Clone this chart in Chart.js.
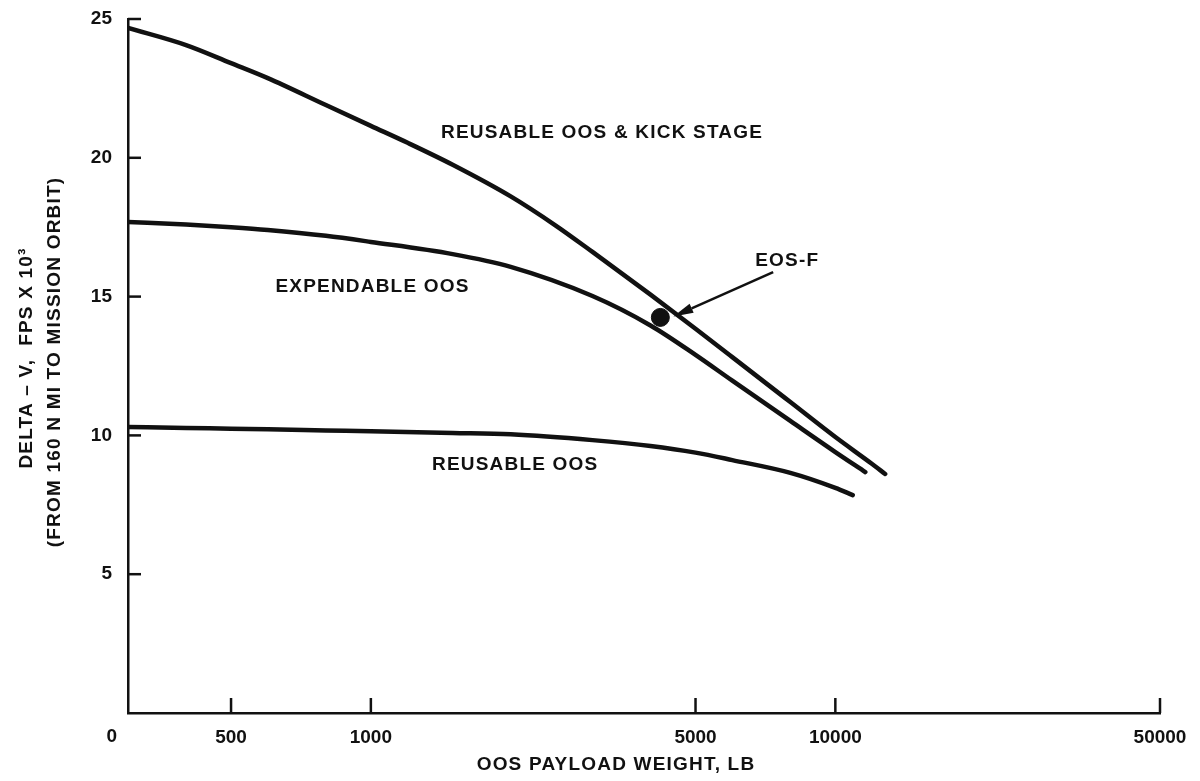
<!DOCTYPE html>
<html>
<head>
<meta charset="utf-8">
<title>OOS Delta-V vs Payload Weight</title>
<script src="https://cdn.jsdelivr.net/npm/chart.js@4"></script>
<style>
  html, body { margin: 0; padding: 0; background: #fff; }
  #wrap { width: 1200px; height: 781px; }
</style>
</head>
<body>
<div id="wrap"><canvas id="deltaV" width="1200" height="781"></canvas></div>
<script>
// payload weight (lb) and delta-V (fps x 1000) for each stage option
const kickWeight = [300, 400, 500, 600, 800, 1000, 1200, 1500, 2000, 2500, 3000, 4000, 5000, 6000, 8000, 10000, 12000, 12800];
const kickDeltaV = [24.68, 24.06, 23.41, 22.87, 21.90, 21.15, 20.54, 19.75, 18.61, 17.56, 16.61, 15.07, 13.84, 12.82, 11.20, 9.94, 8.97, 8.61];

const expWeight = [300, 400, 500, 600, 800, 1000, 1500, 2000, 3000, 4000, 5000, 6000, 8000, 10000, 11600];
const expDeltaV = [17.69, 17.60, 17.50, 17.40, 17.19, 16.97, 16.53, 16.07, 15.02, 13.96, 12.90, 11.97, 10.52, 9.40, 8.68];

const reuseWeight = [300, 400, 500, 600, 800, 1000, 1500, 2000, 3000, 4000, 5000, 6000, 8000, 10000, 10900];
const reuseDeltaV = [10.30, 10.27, 10.24, 10.22, 10.18, 10.15, 10.09, 10.04, 9.83, 9.62, 9.38, 9.11, 8.65, 8.11, 7.85];

// EOS-F mission point
const eosWeight = [4200];
const eosDeltaV = [14.25];

// axis ticks
const xTicks = [300, 500, 1000, 5000, 10000, 50000];
const yTicks = [0, 5, 10, 15, 20, 25];

const ink = '#111';
const face = '"Liberation Sans", Arial, Helvetica, sans-serif';
Chart.defaults.font.family = face;
Chart.defaults.color = ink;

// curve captions, anchored in data units (left edge, middle)
const notes = [
  { text: 'REUSABLE OOS & KICK STAGE', x: 1416, y: 20.89 },
  { text: 'EXPENDABLE OOS', x: 623, y: 15.35 },
  { text: 'REUSABLE OOS', x: 1354, y: 8.93 },
  { text: 'EOS-F', x: 6720, y: 16.28 }
];

function pairs(xs, ys) {
  return xs.map((v, i) => ({ x: v, y: ys[i] }));
}

function curve(label, xs, ys) {
  return {
    label: label,
    data: pairs(xs, ys),
    borderColor: ink,
    borderWidth: 4.5,
    borderCapStyle: 'round',
    pointRadius: 0,
    fill: false,
    cubicInterpolationMode: 'monotone'
  };
}

const paperMarks = {
  id: 'paperMarks',
  afterDatasetsDraw(chart) {
    const { ctx, chartArea: area, scales: { x, y } } = chart;
    ctx.save();
    ctx.strokeStyle = ink;
    ctx.fillStyle = ink;
    ctx.lineWidth = 2.5;

    // tick marks point into the plot
    x.ticks.forEach(t => {
      if (t.value <= x.min) return;
      const px = x.getPixelForValue(t.value);
      ctx.beginPath();
      ctx.moveTo(px, area.bottom);
      ctx.lineTo(px, area.bottom - 15);
      ctx.stroke();
    });
    y.ticks.forEach(t => {
      if (t.value <= y.min) return;
      const py = y.getPixelForValue(t.value);
      ctx.beginPath();
      ctx.moveTo(area.left, py);
      ctx.lineTo(area.left + 13, py);
      ctx.stroke();
    });

    // origin label sits under the corner
    ctx.font = 'bold 19px ' + face;
    ctx.textAlign = 'right';
    ctx.textBaseline = 'middle';
    ctx.fillText('0', area.left - 11, area.bottom + 24);

    // captions
    ctx.letterSpacing = '1.2px';
    ctx.textAlign = 'left';
    notes.forEach(n => {
      ctx.fillText(n.text, x.getPixelForValue(n.x), y.getPixelForValue(n.y));
    });

    // arrow from EOS-F caption to its point
    const eos = notes[3];
    const lx = x.getPixelForValue(eos.x);
    const ly = y.getPixelForValue(eos.y);
    const tail = { x: lx + 18, y: ly + 11 };
    const tip = { x: x.getPixelForValue(eosWeight[0]) + 13, y: y.getPixelForValue(eosDeltaV[0]) - 1 };
    const ang = Math.atan2(tip.y - tail.y, tip.x - tail.x);
    const headLen = 20, headW = 5;
    const bx = tip.x - headLen * Math.cos(ang);
    const by = tip.y - headLen * Math.sin(ang);
    ctx.lineWidth = 2.5;
    ctx.beginPath();
    ctx.moveTo(tail.x, tail.y);
    ctx.lineTo(bx, by);
    ctx.stroke();
    ctx.beginPath();
    ctx.moveTo(tip.x, tip.y);
    ctx.lineTo(bx + headW * Math.sin(ang), by - headW * Math.cos(ang));
    ctx.lineTo(bx - headW * Math.sin(ang), by + headW * Math.cos(ang));
    ctx.closePath();
    ctx.fill();

    // axis titles
    ctx.textAlign = 'center';
    ctx.fillText('OOS PAYLOAD WEIGHT, LB', 616, 765);
    ctx.translate(27, 358);
    ctx.rotate(-Math.PI / 2);
    ctx.fillText('DELTA – V,  FPS X 10³', 0, 0);
    ctx.fillText('(FROM 160 N MI TO MISSION ORBIT)', -4, 28);
    ctx.restore();
  }
};

new Chart(document.getElementById('deltaV'), {
  type: 'line',
  data: {
    datasets: [
      curve('REUSABLE OOS & KICK STAGE', kickWeight, kickDeltaV),
      curve('EXPENDABLE OOS', expWeight, expDeltaV),
      curve('REUSABLE OOS', reuseWeight, reuseDeltaV),
      {
        label: 'EOS-F',
        type: 'scatter',
        data: pairs(eosWeight, eosDeltaV),
        pointRadius: 9,
        pointBackgroundColor: ink,
        pointBorderColor: ink,
        showLine: false
      }
    ]
  },
  options: {
    responsive: false,
    devicePixelRatio: 1,
    animation: false,
    layout: { padding: { top: 19, right: 40, bottom: 0, left: 0 } },
    plugins: {
      legend: { display: false },
      tooltip: { enabled: false }
    },
    scales: {
      x: {
        type: 'logarithmic',
        bounds: 'data',
        min: 300,
        max: 50000,
        afterBuildTicks: function(scale) {
          scale.ticks = xTicks.map(v => ({ value: v }));
        },
        afterFit: function(scale) {
          scale.height = 68;
          scale.paddingLeft = 0;
          scale.paddingRight = 0;
        },
        grid: { display: true, drawOnChartArea: false, drawTicks: false },
        border: { display: true, color: ink, width: 2.5 },
        ticks: {
          autoSkip: false,
          maxRotation: 0,
          padding: 13,
          font: { size: 19, weight: 'bold' },
          callback: function(value) {
            return value <= 300 ? '' : String(value);
          }
        }
      },
      y: {
        type: 'linear',
        min: 0,
        max: 25,
        afterBuildTicks: function(scale) {
          scale.ticks = yTicks.map(v => ({ value: v }));
        },
        afterFit: function(scale) {
          scale.width = 128;
          scale.paddingTop = 0;
          scale.paddingBottom = 0;
        },
        grid: { display: true, drawOnChartArea: false, drawTicks: false },
        border: { display: true, color: ink, width: 2.5 },
        ticks: {
          padding: 16,
          font: { size: 19, weight: 'bold' },
          callback: function(value) {
            return value === 0 ? '' : String(value);
          }
        }
      }
    }
  },
  plugins: [paperMarks]
});
</script>
</body>
</html>
